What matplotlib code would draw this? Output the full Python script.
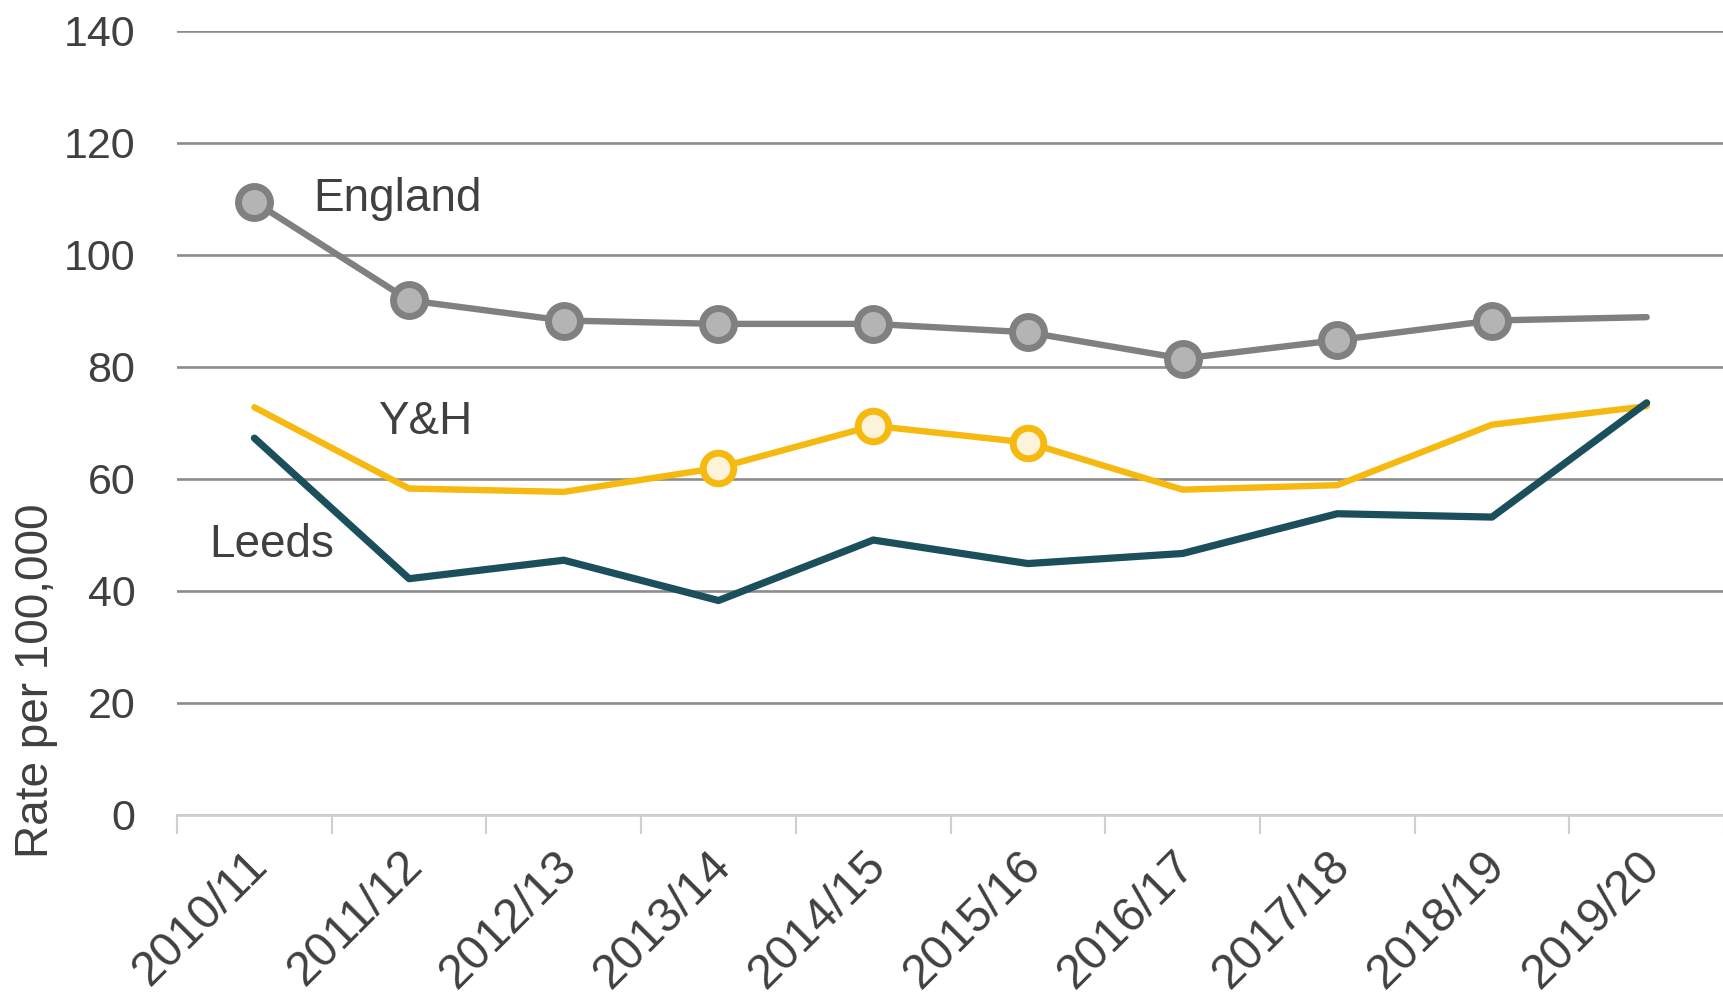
import matplotlib
matplotlib.use("Agg")
import matplotlib.pyplot as plt
import matplotlib.transforms as mtransforms
import numpy as np

plt.rcParams['font.family'] = ['Liberation Sans', 'DejaVu Sans']

categories = ["2010/11", "2011/12", "2012/13", "2013/14", "2014/15",
              "2015/16", "2016/17", "2017/18", "2018/19", "2019/20"]
england = [109.5, 91.9, 88.3, 87.7, 87.7, 86.2, 81.5, 84.8, 88.3, 88.9]
yh = [72.8, 58.3, 57.7, 62.0, 69.5, 66.5, 58.1, 58.9, 69.7, 73.0]
leeds = [67.3, 42.2, 45.5, 38.3, 49.1, 44.9, 46.7, 53.8, 53.2, 73.6]
england_marked = [0, 1, 2, 3, 4, 5, 6, 7, 8]
yh_marked = [3, 4, 5]
yticks = [0, 20, 40, 60, 80, 100, 120, 140]

c_eng = "#808080"
c_yh = "#F5B90F"
c_leeds = "#1C4F5C"
txt = "#404040"

fig = plt.figure(figsize=(17.24, 10), dpi=100)
ax = fig.add_axes([0.1027, 0.185, 0.8973, 0.784])

x = np.arange(len(categories))
ax.plot(x, england, color=c_eng, lw=4.6, zorder=4, solid_capstyle='round',
        marker='o', markevery=england_marked, markersize=23,
        markerfacecolor="#B4B4B4", markeredgecolor=c_eng, markeredgewidth=5)
ax.plot(x, yh, color=c_yh, lw=4.6, zorder=3, solid_capstyle='round',
        marker='o', markevery=yh_marked, markersize=22,
        markerfacecolor="#FDF3D8", markeredgecolor=c_yh, markeredgewidth=5)
ax.plot(x, leeds, color=c_leeds, lw=5.2, zorder=3, solid_capstyle='round')

ax.text(0.38, 110.0, "England", fontsize=33, color=txt, ha='left', va='center')
ax.text(0.80, 70.1, "Y&H", fontsize=33, color=txt, ha='left', va='center')
ax.text(-0.29, 48.3, "Leeds", fontsize=33, color=txt, ha='left', va='center')

ax.set_xlim(-0.5, len(categories) - 0.5)
ax.set_ylim(0, 140)
ax.set_yticks(yticks)
ax.set_yticklabels([str(v) for v in yticks], fontsize=31, color=txt)
ax.tick_params(axis='y', length=0, pad=30)
ax.grid(axis='y', color="#8C8C8C", lw=1.9)
ax.set_axisbelow(True)

ax.set_xticks(np.arange(-0.5, len(categories) + 0.5, 1.0))
ax.set_xticklabels([])
ax.set_xticks(x, minor=True)
ax.set_xticklabels(categories, minor=True, rotation=45, ha='right',
                   rotation_mode='anchor', fontsize=34.5, color=txt)
ax.tick_params(axis='x', which='major', length=14, width=1.5, color="#D0D0D0", direction='out')
ax.tick_params(axis='x', which='minor', length=0, pad=20)
offset = mtransforms.ScaledTranslation(-0.10, 0, fig.dpi_scale_trans)
for lab in ax.xaxis.get_minorticklabels():
    lab.set_transform(lab.get_transform() + offset)

for s in ['top', 'right', 'left']:
    ax.spines[s].set_visible(False)
ax.spines['bottom'].set_color("#D0D0D0")
ax.spines['bottom'].set_linewidth(2)

ax.set_ylabel("Rate per 100,000", fontsize=33, color=txt)
ax.yaxis.set_label_coords(-0.077, -0.055, transform=ax.transAxes)
ax.yaxis.label.set_va('bottom')
ax.yaxis.label.set_ha('left')

fig.savefig("out.png", dpi=100, facecolor='white')
